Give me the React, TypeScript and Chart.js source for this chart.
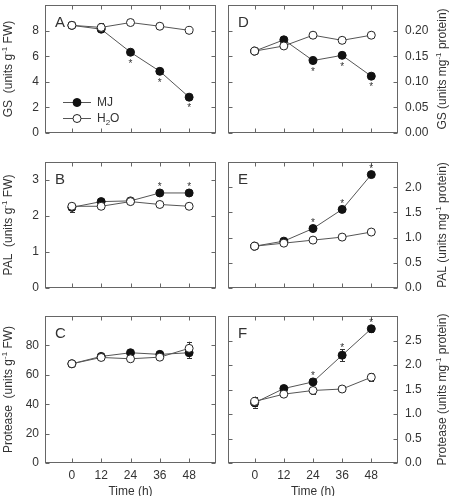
import React, { useEffect, useRef } from 'react';
import { Chart, registerables } from 'chart.js';
Chart.register(...registerables);

// ---------- data ----------
const times = [0, 12, 24, 36, 48];
const timeTicks = [0, 12, 24, 36, 48];
const seriesNames = ['MJ', 'H2O'];

// A: GS (units g-1 FW)
const gsFwMJ = [8.41, 8.11, 6.31, 4.82, 2.8];
const gsFwH2O = [8.41, 8.25, 8.63, 8.34, 8.02];
const gsFwMJErr = [0.1, 0.12, 0.15, 0.15, 0.15];
const gsFwH2OErr = [0.1, 0.32, 0.1, 0.1, 0.1];
const gsFwSig = [0, 0, 1, 1, 1];
const gsFwTicks = [0, 2, 4, 6, 8];

// D: GS (units mg-1 protein)
const gsProtMJ = [0.16, 0.182, 0.1415, 0.1517, 0.111];
const gsProtH2O = [0.16, 0.17, 0.191, 0.181, 0.191];
const gsProtMJErr = [0.003, 0.003, 0.004, 0.004, 0.004];
const gsProtH2OErr = [0.003, 0.003, 0.003, 0.003, 0.003];
const gsProtSig = [0, 0, 1, 1, 1];
const gsProtTicks = [0, 0.05, 0.1, 0.15, 0.2];

// B: PAL (units g-1 FW)
const palFwMJ = [2.24, 2.4, 2.42, 2.64, 2.64];
const palFwH2O = [2.27, 2.27, 2.4, 2.32, 2.27];
const palFwMJErr = [0.12, 0.04, 0.04, 0.05, 0.05];
const palFwH2OErr = [0.1, 0.04, 0.04, 0.04, 0.04];
const palFwSig = [0, 0, 0, 1, 1];
const palFwTicks = [0, 1, 2, 3];

// E: PAL (units mg-1 protein)
const palProtMJ = [0.83, 0.93, 1.18, 1.56, 2.25];
const palProtH2O = [0.83, 0.89, 0.95, 1.01, 1.11];
const palProtMJErr = [0.02, 0.04, 0.04, 0.05, 0.05];
const palProtH2OErr = [0.02, 0.03, 0.03, 0.03, 0.03];
const palProtSig = [0, 0, 1, 1, 1];
const palProtTicks = [0, 0.5, 1, 1.5, 2];

// C: Protease (units g-1 FW)
const protFwMJ = [67.5, 72.5, 75, 73.9, 75];
const protFwH2O = [67.5, 71.8, 70.9, 72, 78];
const protFwMJErr = [1, 1.5, 1.5, 1.5, 3.5];
const protFwH2OErr = [1, 1.5, 1.5, 1.5, 4.5];
const protFwSig = [0, 0, 0, 0, 0];
const protFwTicks = [0, 20, 40, 60, 80];

// F: Protease (units mg-1 protein)
const protProtMJ = [1.23, 1.52, 1.655, 2.2, 2.74];
const protProtH2O = [1.257, 1.405, 1.48, 1.51, 1.75];
const protProtMJErr = [0.1, 0.04, 0.05, 0.12, 0.06];
const protProtH2OErr = [0.1, 0.04, 0.08, 0.03, 0.08];
const protProtSig = [0, 0, 1, 1, 1];
const protProtTicks = [0, 0.5, 1, 1.5, 2, 2.5];

// ---------- layout / style ----------
const W = 451;
const H = 496;
const colL = [45, 228];
const colR = [216, 398];
const rowT = [5, 162, 316];
const rowB = [153, 308, 463];
const X_AXIS_H = 20;
const FONT = '"Liberation Sans", Arial, Helvetica, sans-serif';
const TEXT = '#333';
const AXIS = '#666';
const LINE = '#555';

type Part = { t: string; s?: 'sup' | 'sub' };

type Panel = {
  letter: string;
  col: number;
  row: number;
  mj: number[];
  h2o: number[];
  mjErr: number[];
  h2oErr: number[];
  sig: number[];
  sigAbove: boolean;
  yMax: number;
  yTicks: number[];
  decimals: number;
  title: Part[];
  legend?: boolean;
};

const fwTitle = (name: string): Part[] => [
  { t: name + '  (units g' },
  { t: '-1', s: 'sup' },
  { t: ' FW)' },
];
const protTitle = (name: string): Part[] => [
  { t: name + ' (units mg' },
  { t: '-1', s: 'sup' },
  { t: ' protein)' },
];

const panels: Panel[] = [
  { letter: 'A', col: 0, row: 0, mj: gsFwMJ, h2o: gsFwH2O, mjErr: gsFwMJErr, h2oErr: gsFwH2OErr, sig: gsFwSig, sigAbove: false, yMax: 10, yTicks: gsFwTicks, decimals: 0, title: fwTitle('GS'), legend: true },
  { letter: 'D', col: 1, row: 0, mj: gsProtMJ, h2o: gsProtH2O, mjErr: gsProtMJErr, h2oErr: gsProtH2OErr, sig: gsProtSig, sigAbove: false, yMax: 0.25, yTicks: gsProtTicks, decimals: 2, title: protTitle('GS') },
  { letter: 'B', col: 0, row: 1, mj: palFwMJ, h2o: palFwH2O, mjErr: palFwMJErr, h2oErr: palFwH2OErr, sig: palFwSig, sigAbove: true, yMax: 3.5, yTicks: palFwTicks, decimals: 0, title: fwTitle('PAL') },
  { letter: 'E', col: 1, row: 1, mj: palProtMJ, h2o: palProtH2O, mjErr: palProtMJErr, h2oErr: palProtH2OErr, sig: palProtSig, sigAbove: true, yMax: 2.5, yTicks: palProtTicks, decimals: 1, title: protTitle('PAL') },
  { letter: 'C', col: 0, row: 2, mj: protFwMJ, h2o: protFwH2O, mjErr: protFwMJErr, h2oErr: protFwH2OErr, sig: protFwSig, sigAbove: true, yMax: 100, yTicks: protFwTicks, decimals: 0, title: fwTitle('Protease') },
  { letter: 'F', col: 1, row: 2, mj: protProtMJ, h2o: protProtH2O, mjErr: protProtMJErr, h2oErr: protProtH2OErr, sig: protProtSig, sigAbove: true, yMax: 3.0, yTicks: protProtTicks, decimals: 1, title: protTitle('Protease') },
];

function richWidth(ctx: CanvasRenderingContext2D, parts: Part[], size: number) {
  let w = 0;
  for (const p of parts) {
    ctx.font = `${p.s ? Math.round(size * 0.7) : size}px ${FONT}`;
    w += ctx.measureText(p.t).width;
  }
  return w;
}

function drawRich(ctx: CanvasRenderingContext2D, parts: Part[], x: number, y: number, size: number) {
  let cx = x;
  ctx.textBaseline = 'middle';
  ctx.textAlign = 'left';
  for (const p of parts) {
    const fs = p.s ? Math.round(size * 0.7) : size;
    ctx.font = `${fs}px ${FONT}`;
    const dy = p.s === 'sup' ? -size * 0.35 : p.s === 'sub' ? size * 0.3 : 0;
    ctx.fillText(p.t, cx, y + dy);
    cx += ctx.measureText(p.t).width;
  }
}

function labelParts(name: string): Part[] {
  if (name === 'H2O') return [{ t: 'H' }, { t: '2', s: 'sub' }, { t: 'O' }];
  return [{ t: name }];
}

function makeConfig(p: Panel): any {
  const isLeft = p.col === 0;
  const isBottom = p.row === 2;
  const left = colL[p.col];
  const right = colR[p.col];
  const top = rowT[p.row];
  const bottom = rowB[p.row];

  const panelPlugin = {
    id: 'panelDecor' + p.letter,
    beforeDatasetsDraw(chart: any) {
      const ctx = chart.ctx as CanvasRenderingContext2D;
      const xs = chart.scales.x;
      const ys = chart.scales.y;
      ctx.save();
      ctx.strokeStyle = '#333';
      ctx.lineWidth = 1;
      const sets = [
        { v: p.mj, e: p.mjErr },
        { v: p.h2o, e: p.h2oErr },
      ];
      for (const s of sets) {
        s.v.forEach((val, i) => {
          const err = s.e[i];
          if (!err) return;
          const px = Math.round(xs.getPixelForValue(times[i])) + 0.5;
          const y1 = ys.getPixelForValue(val + err);
          const y2 = ys.getPixelForValue(val - err);
          ctx.beginPath();
          ctx.moveTo(px, y1);
          ctx.lineTo(px, y2);
          ctx.moveTo(px - 2.5, Math.round(y1) + 0.5);
          ctx.lineTo(px + 2.5, Math.round(y1) + 0.5);
          ctx.moveTo(px - 2.5, Math.round(y2) + 0.5);
          ctx.lineTo(px + 2.5, Math.round(y2) + 0.5);
          ctx.stroke();
        });
      }
      ctx.restore();
    },
    afterDraw(chart: any) {
      const ctx = chart.ctx as CanvasRenderingContext2D;
      const xs = chart.scales.x;
      const ys = chart.scales.y;
      const a = chart.chartArea;
      const L = Math.round(a.left) + 0.5;
      const R = Math.round(a.right) - 0.5;
      const T = Math.round(a.top) + 0.5;
      const B = Math.round(a.bottom) - 0.5;
      ctx.save();
      // frame
      ctx.strokeStyle = AXIS;
      ctx.lineWidth = 1;
      ctx.strokeRect(L, T, R - L, B - T);
      // inward ticks
      ctx.beginPath();
      for (const v of timeTicks) {
        const px = Math.round(xs.getPixelForValue(v)) + 0.5;
        ctx.moveTo(px, B);
        ctx.lineTo(px, B - 4);
        ctx.moveTo(px, T);
        ctx.lineTo(px, T + 4);
      }
      for (const v of p.yTicks) {
        const py = Math.round(ys.getPixelForValue(v)) + 0.5;
        ctx.moveTo(L, py);
        ctx.lineTo(L + 4, py);
        ctx.moveTo(R, py);
        ctx.lineTo(R - 4, py);
      }
      ctx.stroke();

      // panel letter
      ctx.fillStyle = TEXT;
      ctx.font = `15px ${FONT}`;
      ctx.textAlign = 'left';
      ctx.textBaseline = 'alphabetic';
      ctx.fillText(p.letter, a.left + 10, a.top + 22);

      // significance asterisks
      ctx.font = `10px ${FONT}`;
      ctx.textAlign = 'center';
      p.sig.forEach((s, i) => {
        if (!s) return;
        const px = xs.getPixelForValue(times[i]);
        const py = ys.getPixelForValue(p.mj[i]);
        const errPx = Math.abs(ys.getPixelForValue(p.mj[i] + p.mjErr[i]) - py);
        const off = Math.max(8.5, errPx + 4);
        const cy = p.sigAbove ? py - off : py + off;
        ctx.fillText('*', px, cy + 5.8);
      });

      // y title (rotated)
      const tsize = 12;
      const tw = richWidth(ctx, p.title, tsize);
      const tx = isLeft ? 9 : 443;
      const ty = (a.top + a.bottom) / 2;
      ctx.save();
      ctx.translate(tx, ty);
      ctx.rotate(-Math.PI / 2);
      ctx.fillStyle = TEXT;
      drawRich(ctx, p.title, -tw / 2, 0, tsize);
      ctx.restore();

      // x title
      if (isBottom) {
        ctx.fillStyle = TEXT;
        ctx.font = `12px ${FONT}`;
        ctx.textAlign = 'center';
        ctx.textBaseline = 'middle';
        ctx.fillText('Time (h)', (a.left + a.right) / 2, 492);
      }

      // legend
      if (p.legend) {
        const items = chart.data.datasets.slice().sort((d1: any, d2: any) => d2.order - d1.order);
        items.forEach((ds: any, k: number) => {
          const ly = 102 + k * 16;
          ctx.strokeStyle = ds.borderColor;
          ctx.lineWidth = 1;
          ctx.beginPath();
          ctx.moveTo(63, ly + 0.5);
          ctx.lineTo(91, ly + 0.5);
          ctx.stroke();
          ctx.beginPath();
          ctx.arc(77, ly + 0.5, ds.pointRadius, 0, Math.PI * 2);
          ctx.fillStyle = ds.pointBackgroundColor;
          ctx.fill();
          ctx.strokeStyle = ds.pointBorderColor;
          ctx.stroke();
          ctx.fillStyle = TEXT;
          drawRich(ctx, labelParts(ds.label), 97, ly + 1, 12);
        });
      }
      ctx.restore();
    },
  };

  return {
    type: 'line',
    data: {
      datasets: [
        {
          label: seriesNames[0],
          data: times.map((t, i) => ({ x: t, y: p.mj[i] })),
          borderColor: LINE,
          borderWidth: 1,
          pointRadius: 4,
          pointBorderWidth: 1,
          pointBackgroundColor: '#111',
          pointBorderColor: '#111',
          tension: 0,
          fill: false,
          order: 1,
        },
        {
          label: seriesNames[1],
          data: times.map((t, i) => ({ x: t, y: p.h2o[i] })),
          borderColor: LINE,
          borderWidth: 1,
          pointRadius: 4,
          pointBorderWidth: 1,
          pointBackgroundColor: '#fff',
          pointBorderColor: '#222',
          tension: 0,
          fill: false,
          order: 0,
        },
      ],
    },
    options: {
      responsive: false,
      animation: false,
      devicePixelRatio: 1,
      layout: {
        padding: {
          left: isLeft ? 0 : left,
          right: isLeft ? W - right : 0,
          top: top,
          bottom: H - bottom - (isBottom ? X_AXIS_H : 0),
        },
      },
      plugins: { legend: { display: false }, tooltip: { enabled: false }, title: { display: false } },
      scales: {
        x: {
          type: 'linear',
          min: -11,
          max: 59,
          display: isBottom,
          afterBuildTicks: (s: any) => {
            s.ticks = timeTicks.map((v) => ({ value: v }));
          },
          afterFit: (s: any) => {
            s.height = X_AXIS_H;
            s.paddingLeft = 0;
            s.paddingRight = 0;
          },
          grid: { display: false, drawTicks: false },
          border: { display: false },
          ticks: {
            font: { size: 12, family: FONT },
            color: TEXT,
            padding: 5,
            maxRotation: 0,
            autoSkip: false,
            callback: (v: any) => String(v),
          },
        },
        y: {
          type: 'linear',
          min: 0,
          max: p.yMax,
          position: isLeft ? 'left' : 'right',
          afterBuildTicks: (s: any) => {
            s.ticks = p.yTicks.map((v) => ({ value: v }));
          },
          afterFit: (s: any) => {
            s.width = isLeft ? left : W - right;
            s.paddingTop = 0;
            s.paddingBottom = 0;
          },
          grid: { display: false, drawTicks: false },
          border: { display: false },
          ticks: {
            font: { size: 12, family: FONT },
            color: TEXT,
            padding: isLeft ? 6 : 7,
            autoSkip: false,
            callback: (v: any) => Number(v).toFixed(p.decimals),
          },
        },
      },
    },
    plugins: [panelPlugin],
  };
}

export default function App() {
  const refs = useRef<(HTMLCanvasElement | null)[]>([]);
  useEffect(() => {
    const charts = panels.map((p, i) => new Chart(refs.current[i] as HTMLCanvasElement, makeConfig(p)));
    return () => charts.forEach((c) => c.destroy());
  }, []);
  return (
    <div style={{ position: 'fixed', left: 0, top: 0, width: W, height: H, background: '#fff', overflow: 'hidden' }}>
      {panels.map((p, i) => (
        <canvas
          key={p.letter}
          ref={(el) => {
            refs.current[i] = el;
          }}
          width={W}
          height={H}
          style={{ position: 'absolute', left: 0, top: 0, width: W, height: H }}
        />
      ))}
    </div>
  );
}
